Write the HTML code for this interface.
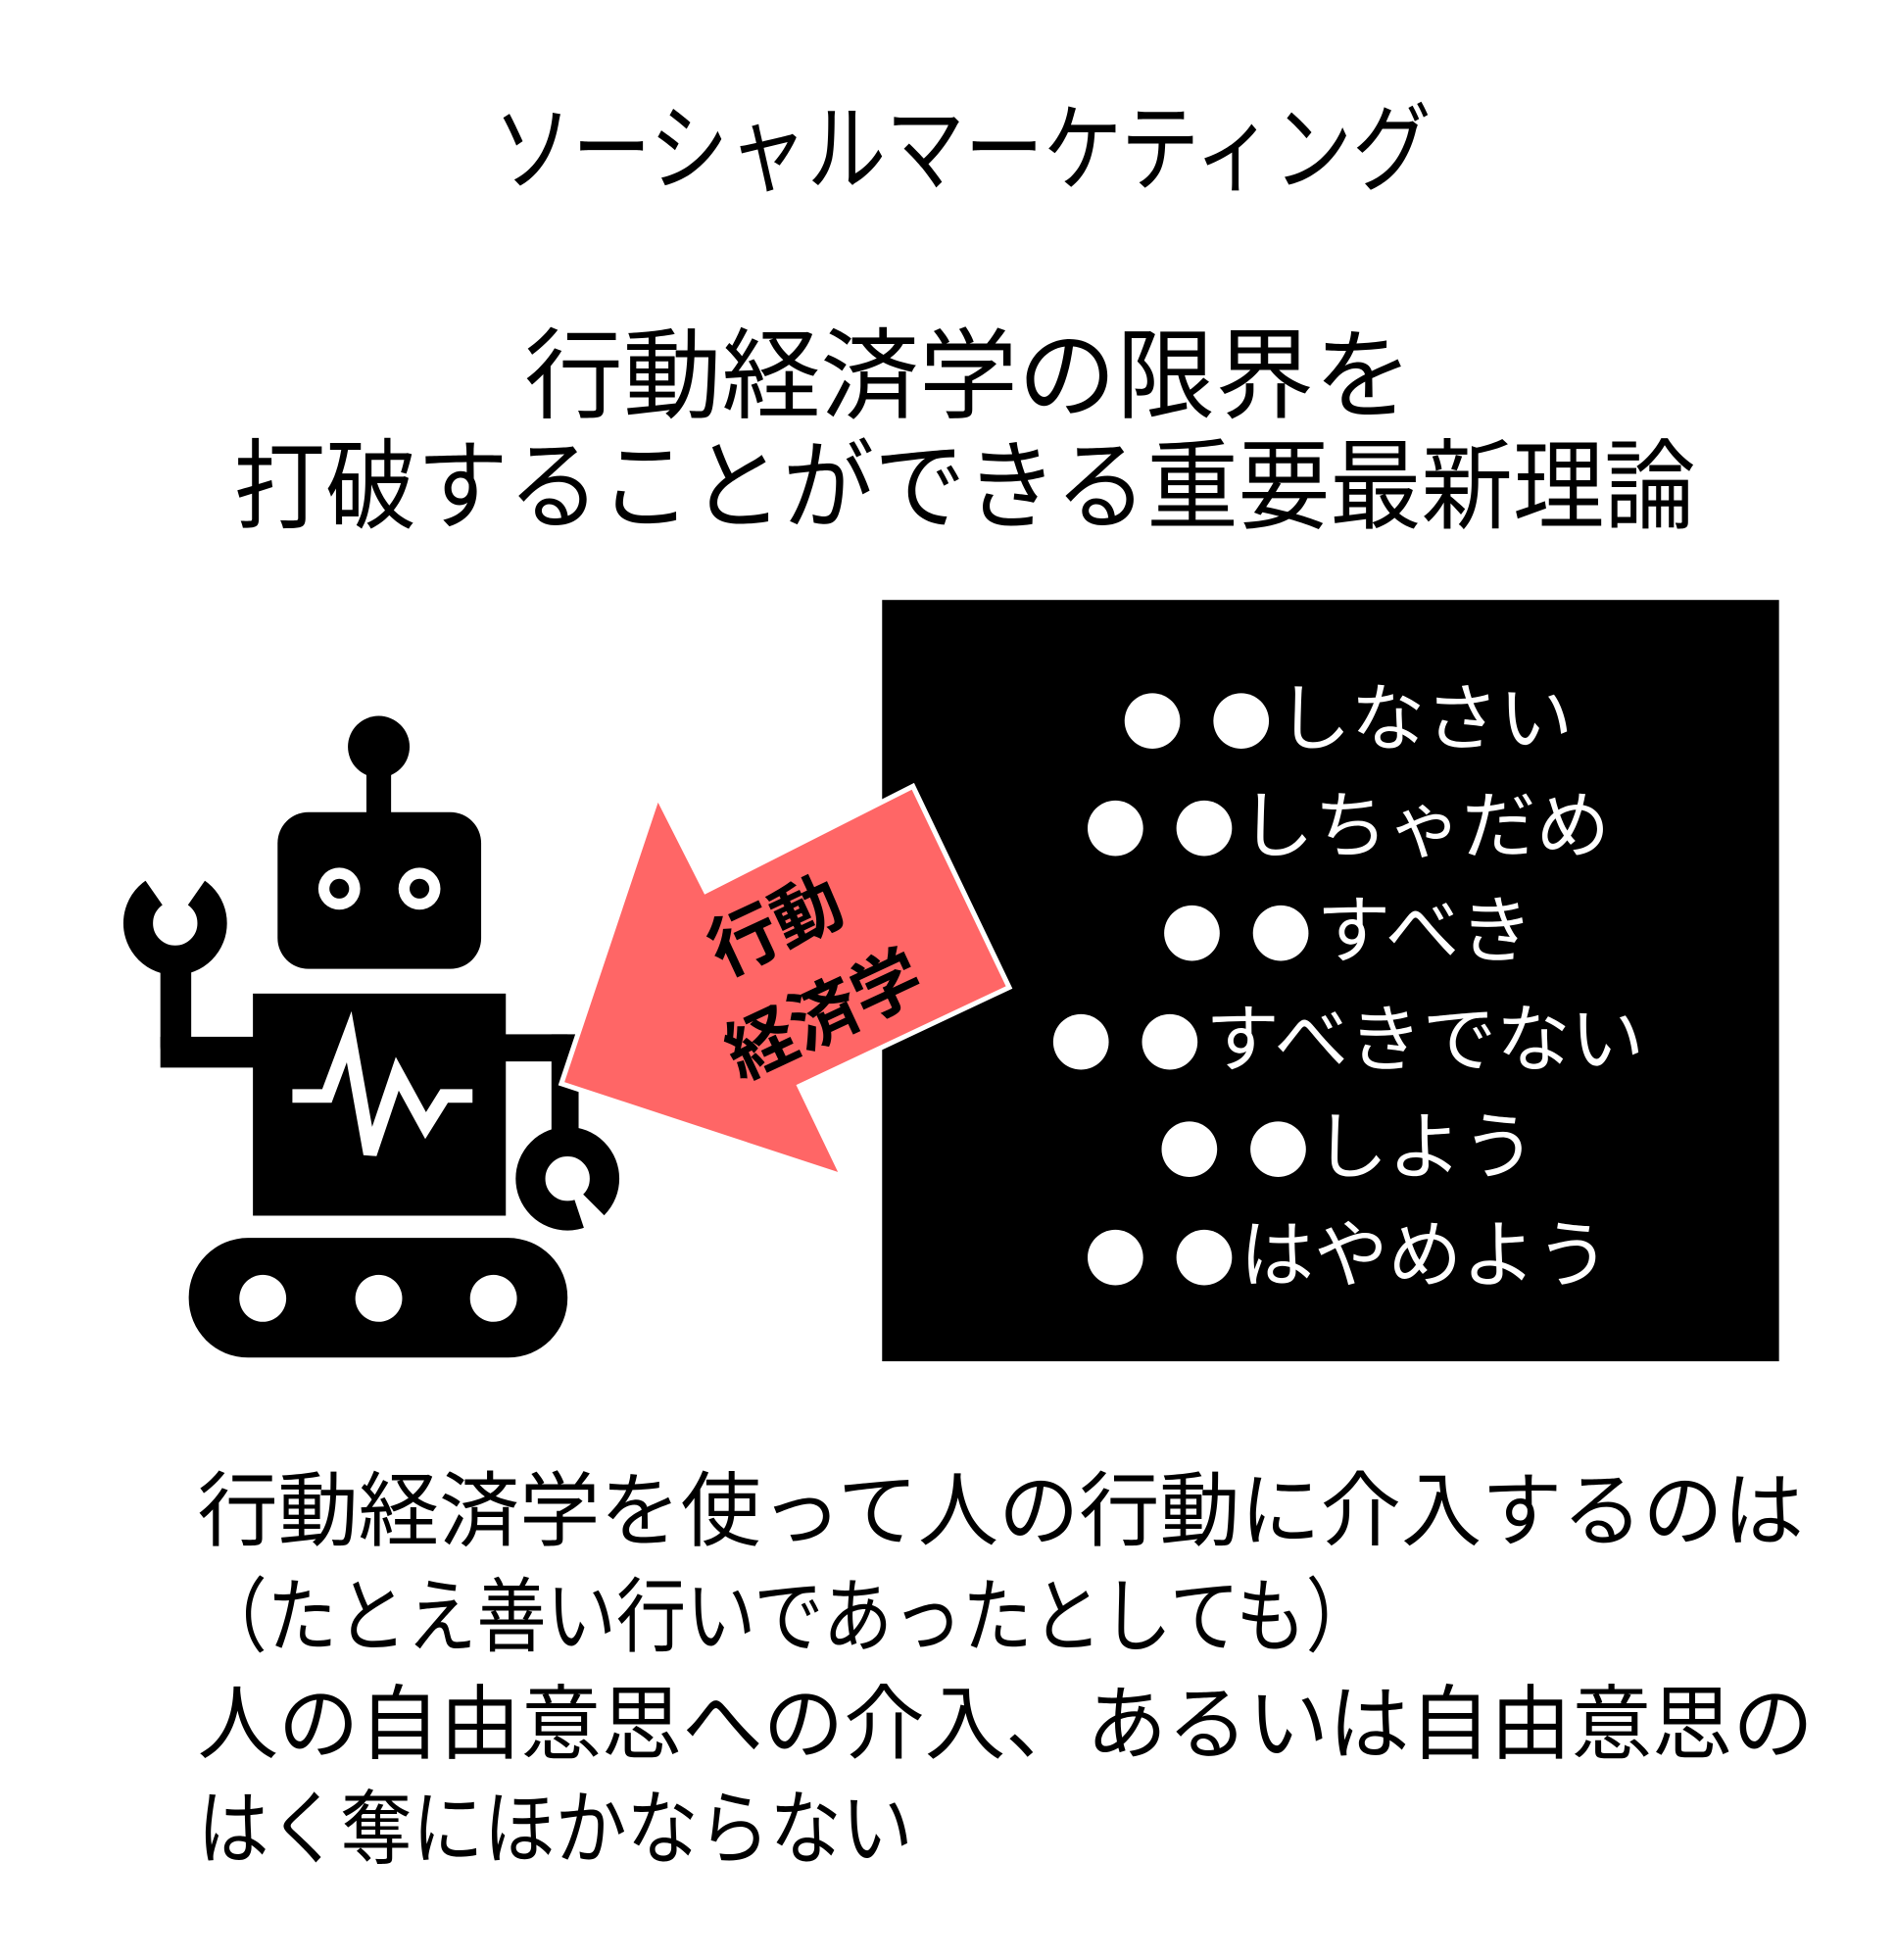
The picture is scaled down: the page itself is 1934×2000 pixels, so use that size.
<!DOCTYPE html>
<html><head><meta charset="utf-8"><style>html,body{margin:0;padding:0;background:#fff}svg{display:block}text{font-family:"Liberation Sans","Noto Sans CJK JP",sans-serif}.d{font-family:"Noto Sans CJK JP",sans-serif;font-size:50px;letter-spacing:22px}</style></head>
<body>
<svg width="1934" height="2000" viewBox="0 0 1536 1588" xmlns="http://www.w3.org/2000/svg">
<rect width="1536" height="1588" fill="#fff"/>
<text x="780" y="148" font-size="78" text-anchor="middle" textLength="760" lengthAdjust="spacingAndGlyphs">ソーシャルマーケティング</text>
<text x="785" y="332" font-size="80" text-anchor="middle" textLength="720" lengthAdjust="spacingAndGlyphs">行動経済学の限界を</text>
<text x="782" y="422" font-size="80" text-anchor="middle" textLength="1185" lengthAdjust="spacingAndGlyphs">打破することができる重要最新理論</text>

<rect x="715" y="486" width="727" height="617" fill="#000"/>
<g fill="#fff" font-size="60" text-anchor="middle">
<text x="1092" y="603"><tspan class="d">●●</tspan><tspan dx="-18">しなさい</tspan></text>
<text x="1092" y="690"><tspan class="d">●●</tspan><tspan dx="-18">しちゃだめ</tspan></text>
<text x="1092" y="775"><tspan class="d">●●</tspan><tspan dx="-18">すべき</tspan></text>
<text x="1092" y="863"><tspan class="d">●●</tspan><tspan dx="-18">すべきでない</tspan></text>
<text x="1092" y="950"><tspan class="d">●●</tspan><tspan dx="-18">しよう</tspan></text>
<text x="1092" y="1038"><tspan class="d">●●</tspan><tspan dx="-18">はやめよう</tspan></text>
</g>

<!-- robot -->
<g fill="#000">
<circle cx="307" cy="605" r="25"/>
<rect x="297" y="620" width="20" height="45"/>
<rect x="225" y="658" width="165" height="127" rx="25"/>
<rect x="205" y="805" width="205" height="180"/>
<rect x="130" y="840" width="80" height="25"/>
<rect x="130" y="770" width="25" height="90" rx="12"/>
<rect x="405" y="838" width="55" height="22"/>
<rect x="447" y="838" width="22" height="90"/>
<rect x="153" y="1003" width="307" height="97" rx="48"/>
</g>
<circle cx="142" cy="748" r="30" fill="none" stroke="#000" stroke-width="24"/>
<polygon points="112,705 142,748 172,705" fill="#fff"/>
<circle cx="460" cy="955" r="30" fill="none" stroke="#000" stroke-width="24"/>
<polygon points="500,995 460,955 475,1000" fill="#fff"/>
<circle cx="275" cy="720" r="17" fill="#fff"/><circle cx="275" cy="720" r="8" fill="#000"/>
<circle cx="340" cy="720" r="17" fill="#fff"/><circle cx="340" cy="720" r="8" fill="#000"/>
<polyline points="237,888 265,888 283,840 300,935 322,870 345,912 360,888 383,888" fill="none" stroke="#fff" stroke-width="11" stroke-linejoin="miter"/>
<circle cx="213" cy="1052" r="19" fill="#fff"/>
<circle cx="307" cy="1052" r="19" fill="#fff"/>
<circle cx="400" cy="1052" r="19" fill="#fff"/>

<!-- arrow -->
<polygon points="533,645 572,722 740,637 818,800 648,880 683,953 455,878" fill="#ff6666" stroke="#fff" stroke-width="4" stroke-linejoin="miter"/>
<g font-size="56" font-weight="bold" text-anchor="middle">
<text transform="translate(637,768) rotate(-25)">行動</text>
<text transform="translate(676,840) rotate(-25)">経済学</text>
</g>

<g font-size="66">
<text x="160" y="1247" textLength="1302" lengthAdjust="spacingAndGlyphs">行動経済学を使って人の行動に介入するのは</text>
<text x="160" y="1333" textLength="955" lengthAdjust="spacingAndGlyphs">（たとえ善い行いであったとしても）</text>
<text x="160" y="1420" textLength="1310" lengthAdjust="spacingAndGlyphs">人の自由意思への介入、あるいは自由意思の</text>
<text x="160" y="1505" textLength="580" lengthAdjust="spacingAndGlyphs">はく奪にほかならない</text>
</g>
</svg>
</body></html>
